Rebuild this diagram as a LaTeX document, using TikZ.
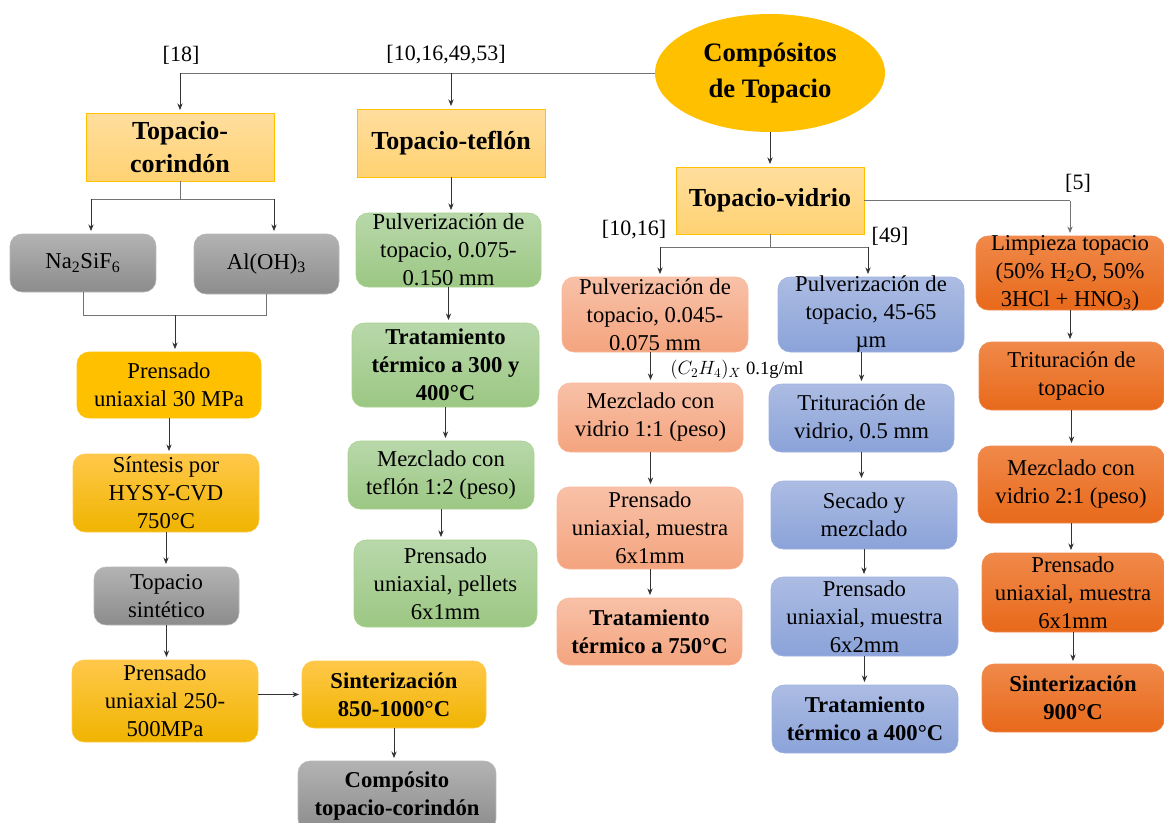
\documentclass[tikz,border=0pt]{standalone}
\usepackage{fontspec}
\setmainfont{Liberation Serif}
\usetikzlibrary{arrows.meta,shapes.geometric}
\newcommand\fN{\fontsize{17}{21}\selectfont}
\newcommand\fB{\fontsize{17}{21}\selectfont\bfseries}
\newcommand\fT{\fontsize{19.5}{25}\selectfont\bfseries}
\newcommand\fE{\fontsize{20}{24}\selectfont\bfseries}
\newcommand\fR{\fontsize{16.5}{20}\selectfont}
\definecolor{goldc}{HTML}{FFC000}
\definecolor{ffde9e}{HTML}{FFDE9E}
\definecolor{ffd272}{HTML}{FFD272}
\definecolor{ffc84a}{HTML}{FFC84A}
\definecolor{f0b400}{HTML}{F0B400}
\definecolor{b8b8b8}{HTML}{B8B8B8}
\definecolor{b3b3b3}{HTML}{B3B3B3}
\definecolor{8c8c8c}{HTML}{8C8C8C}
\definecolor{a9d18e}{HTML}{A9D18E}
\definecolor{b8d8aa}{HTML}{B8D8AA}
\definecolor{9cc783}{HTML}{9CC783}
\definecolor{f8b89a}{HTML}{F8B89A}
\definecolor{f8c1a8}{HTML}{F8C1A8}
\definecolor{f4a47e}{HTML}{F4A47E}
\definecolor{9fb2e0}{HTML}{9FB2E0}
\definecolor{acbce3}{HTML}{ACBCE3}
\definecolor{8ba3d9}{HTML}{8BA3D9}
\definecolor{f08a4e}{HTML}{F08A4E}
\definecolor{f0894a}{HTML}{F0894A}
\definecolor{e8691a}{HTML}{E8691A}
\tikzset{
  wh/.style 2 args={minimum width=#1*0.75pt, minimum height=#2*0.75pt},
  bx/.style={rectangle, rounded corners=9pt, inner sep=0pt, line width=0.4pt},
  titlebox/.style={rectangle, inner sep=0pt, line width=0.5pt, draw=goldc, top color=ffde9e, bottom color=ffd272},
  goldbox/.style={bx, draw=ffc84a, top color=ffc84a, bottom color=f0b400},
  flatgold/.style={bx, draw=goldc, fill=goldc},
  graybox/.style={bx, draw=b8b8b8, top color=b3b3b3, bottom color=8c8c8c},
  greenbox/.style={bx, draw=a9d18e, top color=b8d8aa, bottom color=9cc783},
  salbox/.style={bx, draw=f8b89a, top color=f8c1a8, bottom color=f4a47e},
  bluebox/.style={bx, draw=9fb2e0, top color=acbce3, bottom color=8ba3d9},
  orbox/.style={bx, draw=f08a4e, top color=f0894a, bottom color=e8691a},
  tx/.style={align=center, font=\fN, inner sep=0pt},
  txb/.style={align=center, font=\fB, inner sep=0pt},
  txt/.style={align=center, font=\fT, inner sep=0pt},
  ref/.style={font=\fR, inner sep=0pt},
  ln/.style={line width=0.6pt, draw=black!55},
  arr/.style={line width=0.6pt, draw=black!80, -{Stealth[length=5pt,width=4pt]}, shorten >=2pt},
}
\begin{document}
\begin{tikzpicture}[x=0.75pt,y=-0.75pt]
\useasboundingbox (0,0) rectangle (1164,822);
% root
\node[ellipse, fill=goldc, wh={230}{118}, inner sep=0pt, align=center, font=\fE] (comp) at (770,73) {Compósitos\\[3pt]de Topacio};
% titles
\node[titlebox, wh={188}{68}, label={[txt]center:{Topacio-\\corindón}}] (tc) at (180,147) {};
\node[titlebox, wh={188}{68}, label={[txt]center:{Topacio-teflón}}] (tt) at (451,143) {};
\node[titlebox, wh={188}{67}, label={[txt]center:{Topacio-vidrio}}] (tv) at (770,200.5) {};
% corindon column
\node[graybox, wh={146}{58}, label={[tx]center:{Na\textsubscript{2}SiF\textsubscript{6}}}] (na) at (83,263) {};
\node[graybox, wh={145}{60}, label={[tx]center:{Al(OH)\textsubscript{3}}}] (al) at (266.5,264) {};
\node[flatgold, wh={184}{66}, label={[tx]center:{Prensado\\uniaxial 30 MPa}}] (p30) at (169,385) {};
\node[goldbox, wh={186}{78}, label={[tx]center:{Síntesis por\\HYSY-CVD\\750°C}}] (sint) at (166,493) {};
\node[graybox, wh={145}{58}, label={[tx]center:{Topacio\\sintético}}] (tsin) at (166.5,596) {};
\node[goldbox, wh={186}{82}, label={[tx]center:{Prensado\\uniaxial 250-\\500MPa}}] (p250) at (165,701) {};
\node[goldbox, wh={184}{67}, label={[txb]center:{Sinterización\\850-1000°C}}] (sin1) at (394,694.5) {};
\node[graybox, wh={198}{70}, label={[txb]center:{Compósito\\topacio-corindón}}] (compc) at (397,796) {};
% teflon column
\node[greenbox, wh={185}{74}, label={[tx]center:{Pulverización de\\topacio, 0.075-\\0.150 mm}}] (g1) at (448.5,250) {};
\node[greenbox, wh={187}{84}, label={[txb]center:{Tratamiento\\térmico a 300 y\\400°C}}] (g2) at (445.5,365) {};
\node[greenbox, wh={186}{68}, label={[tx]center:{Mezclado con\\teflón 1:2 (peso)}}] (g3) at (441,475) {};
\node[greenbox, wh={183}{87}, label={[tx]center:{Prensado\\uniaxial, pellets\\6x1mm}}] (g4) at (445.5,583.5) {};
% vidrio [10,16]
\node[salbox, wh={186}{75}, label={[tx]center:{Pulverización de\\topacio, 0.045-\\0.075 mm}}] (s1) at (655,314.5) {};
\node[salbox, wh={185}{69}, label={[tx]center:{Mezclado con\\vidrio 1:1 (peso)}}] (s2) at (650.5,417.5) {};
\node[salbox, wh={186}{82}, label={[tx]center:{Prensado\\uniaxial, muestra\\6x1mm}}] (s3) at (650,528) {};
\node[salbox, wh={185}{67}, label={[txb]center:{Tratamiento\\térmico a 750°C}}] (s4) at (649.5,631.5) {};
% vidrio [49]
\node[bluebox, wh={186}{75}, label={[tx]center:{Pulverización de\\topacio, 45-65\\µm}}] (b1) at (871,314.5) {};
\node[bluebox, wh={185}{68}, label={[tx]center:{Trituración de\\vidrio, 0.5 mm}}] (b2) at (861.5,418) {};
\node[bluebox, wh={186}{68}, label={[tx]center:{Secado y\\mezclado}}] (b3) at (864,515) {};
\node[bluebox, wh={187}{79}, label={[tx]center:{Prensado\\uniaxial, muestra\\6x2mm}}] (b4) at (864.5,616.5) {};
\node[bluebox, wh={186}{68}, label={[txb]center:{Tratamiento\\térmico a 400°C}}] (b5) at (865,719) {};
% vidrio [5]
\node[orbox, wh={188}{74}, label={[tx]center:{Limpieza topacio\\(50\% H\textsubscript{2}O, 50\%\\3HCl + HNO\textsubscript{3})}}] (o1) at (1070,273) {};
\node[orbox, wh={185}{68}, label={[tx]center:{Trituración de\\topacio}}] (o2) at (1071.5,376) {};
\node[orbox, wh={186}{77}, label={[tx]center:{Mezclado con\\vidrio 2:1 (peso)}}] (o3) at (1071,484.5) {};
\node[orbox, wh={182}{79}, label={[tx]center:{Prensado\\uniaxial, muestra\\6x1mm}}] (o4) at (1073,592.5) {};
\node[orbox, wh={182}{68}, label={[txb]center:{Sinterización\\900°C}}] (o5) at (1073,698) {};
% reference labels
\node[ref] (r18) at (181,55) {[18]};
\node[ref] (r10) at (446,55) {[10,16,49,53]};
\node[ref] (r1016) at (634,230) {[10,16]};
\node[ref] (r49) at (890,236) {[49]};
\node[ref] (r5) at (1078,183) {[5]};
\node[inner sep=0pt, font=\fontsize{14}{16}\selectfont] (chem) at (737,370) {$(C_2H_4)_X$ 0.1g/ml};
% connectors: root
\draw[ln] (comp.west) -- (tc.north |- comp.west);
\draw[arr] (tc.north |- comp.west) -- (tc.north);
\draw[arr] (tt.north |- comp.west) -- (tt.north);
\draw[arr] (comp.south) -- (tv.north);
% corindon
\coordinate (sl) at (91,199);
\coordinate (sr) at (274,199);
\draw[ln] (tc.south) -- (tc.south |- sl);
\draw[ln] (sl) -- (sr);
\draw[arr] (sl) -- (sl |- na.north);
\draw[arr] (sr) -- (sr |- al.north);
\coordinate (j) at (175,315);
\draw[ln] (na.south) -- (na.south |- j) -- (al.south |- j) -- (al.south);
\draw[arr] (j) -- (j |- p30.north);
\draw[arr] (p30.south) -- (p30.south |- sint.north);
\draw[arr] (sint.south) -- (sint.south |- tsin.north);
\draw[arr] (tsin.south) -- (tsin.south |- p250.north);
\draw[arr] (p250.east |- sin1.west) -- (sin1.west);
\draw[arr] (sin1.south) -- (sin1.south |- compc.north);
% teflon
\draw[arr] (tt.south) -- (tt.south |- g1.north);
\draw[arr] (g1.south) -- (g1.south |- g2.north);
\draw[arr] (g2.south) -- (g2.south |- g3.north);
\draw[arr] (g3.south) -- (g3.south |- g4.north);
% vidrio split
\coordinate (vl) at (660,247);
\coordinate (vr) at (868,247);
\draw[ln] (tv.south) -- (tv.south |- vl);
\draw[ln] (vl) -- (vr);
\draw[arr] (vl) -- (vl |- s1.north);
\draw[arr] (vr) -- (vr |- b1.north);
\draw[ln, line width=1pt] (tv.east) -- (o1.north |- tv.east);
\draw[arr, draw=black!55] (o1.north |- tv.east) -- (o1.north);
% salmon
\draw[arr] (s1.south -| s2.north) -- (s2.north);
\draw[arr] (s2.south) -- (s2.south |- s3.north);
\draw[arr] (s3.south) -- (s3.south |- s4.north);
% blue
\draw[arr] (b1.south -| b2.north) -- (b2.north);
\draw[arr] (b2.south) -- (b2.south |- b3.north);
\draw[arr] (b3.south) -- (b3.south |- b4.north);
\draw[arr] (b4.south) -- (b4.south |- b5.north);
% orange
\draw[arr] (o1.south) -- (o1.south |- o2.north);
\draw[arr] (o2.south) -- (o2.south |- o3.north);
\draw[arr] (o3.south) -- (o3.south |- o4.north);
\draw[arr] (o4.south) -- (o4.south |- o5.north);
\end{tikzpicture}
\end{document}
